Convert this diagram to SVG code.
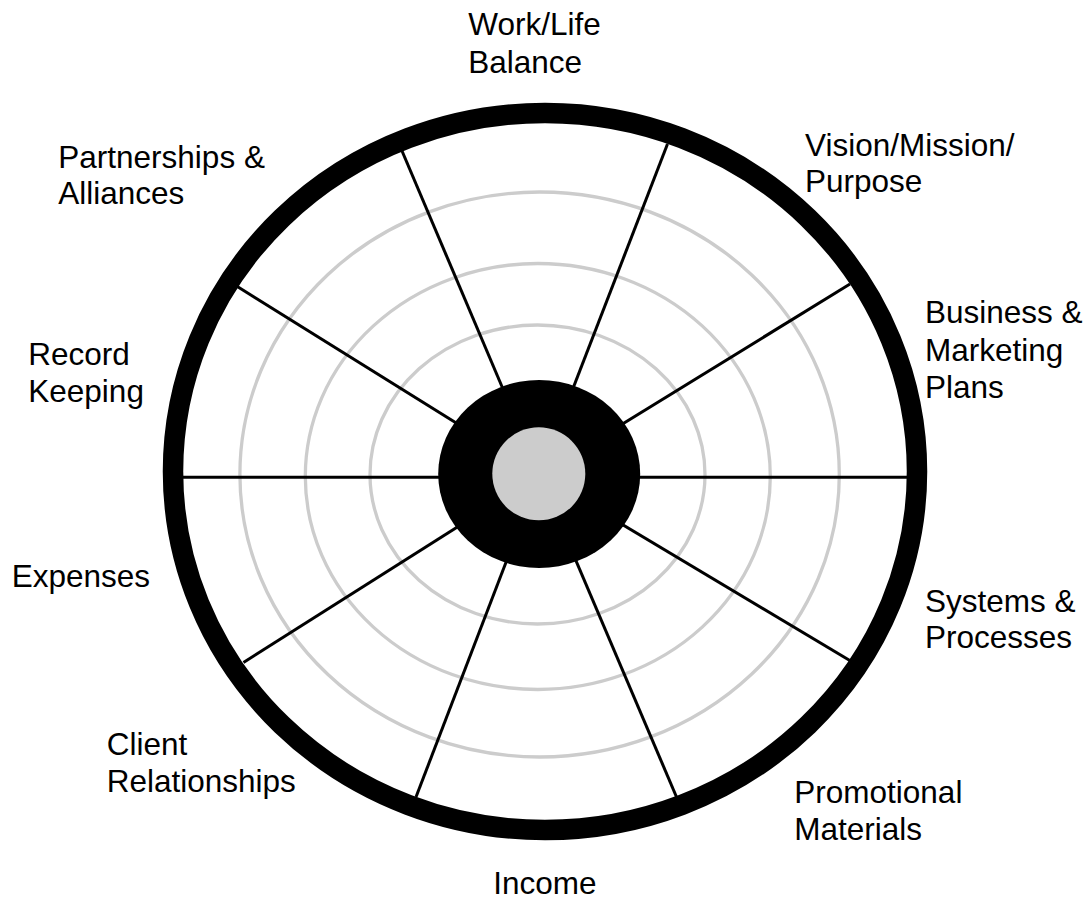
<svg xmlns="http://www.w3.org/2000/svg" width="1089" height="901" viewBox="0 0 1089 901">
  <style>
    .lbl { font-family: "Liberation Sans", Arial, sans-serif; font-size: 31.5px; fill: #000; }
    .ring { fill: none; stroke: #cccccc; stroke-width: 3.3; }
    .spoke { stroke: #000; stroke-width: 3; fill: none; }
  </style>
  <rect width="1089" height="901" fill="#ffffff"/>
  <g id="guides">
    <ellipse class="ring" cx="539.6" cy="474.5" rx="299.7" ry="282.5"/>
    <ellipse class="ring" cx="537.8" cy="476.5" rx="232.5" ry="213"/>
    <ellipse class="ring" cx="537.5" cy="474.5" rx="167.5" ry="149.5"/>
  </g>
  <g id="connectors">
    <line class="spoke" x1="180" y1="477.3" x2="910" y2="477.3"/>
    <line class="spoke" x1="539.5" y1="475" x2="850" y2="284"/>
    <line class="spoke" x1="539.5" y1="475" x2="667.5" y2="144"/>
    <line class="spoke" x1="539.5" y1="475" x2="399.7" y2="145.5"/>
    <line class="spoke" x1="539.5" y1="475" x2="232.5" y2="283.5"/>
    <line class="spoke" x1="539.5" y1="475" x2="243.5" y2="662.5"/>
    <line class="spoke" x1="539.5" y1="475" x2="416" y2="797"/>
    <line class="spoke" x1="539.5" y1="475" x2="678" y2="800.5"/>
    <line class="spoke" x1="539.5" y1="475" x2="854" y2="663"/>
  </g>
  <g id="rim">
    <ellipse cx="545" cy="471.5" rx="372" ry="358.5" fill="none" stroke="#000" stroke-width="20.5"/>
  </g>
  <g id="hub">
    <ellipse cx="539.2" cy="474" rx="101" ry="94" fill="#000"/>
    <circle cx="538.8" cy="473.8" r="46.5" fill="#cccccc"/>
  </g>
  <g id="label-worklife"><text class="lbl" x="468.3" y="35">Work/Life</text><text class="lbl" x="468.3" y="72.5">Balance</text></g>
  <g id="label-vision"><text class="lbl" x="805" y="156">Vision/Mission/</text><text class="lbl" x="805" y="192">Purpose</text></g>
  <g id="label-business"><text class="lbl" x="925" y="323.3">Business &amp;</text><text class="lbl" x="925" y="360.5">Marketing</text><text class="lbl" x="925" y="397.5">Plans</text></g>
  <g id="label-systems"><text class="lbl" x="925" y="611.7">Systems &amp;</text><text class="lbl" x="925" y="648.3">Processes</text></g>
  <g id="label-promotional"><text class="lbl" x="794.3" y="803.3">Promotional</text><text class="lbl" x="794.3" y="840">Materials</text></g>
  <g id="label-income"><text class="lbl" x="493.3" y="894">Income</text></g>
  <g id="label-client"><text class="lbl" x="106.7" y="755">Client</text><text class="lbl" x="106.7" y="791.7">Relationships</text></g>
  <g id="label-expenses"><text class="lbl" x="11.7" y="586.7">Expenses</text></g>
  <g id="label-record"><text class="lbl" x="28.3" y="365">Record</text><text class="lbl" x="28.3" y="401.5">Keeping</text></g>
  <g id="label-partnerships"><text class="lbl" x="58.3" y="167.7">Partnerships &amp;</text><text class="lbl" x="58.3" y="204">Alliances</text></g>
</svg>
